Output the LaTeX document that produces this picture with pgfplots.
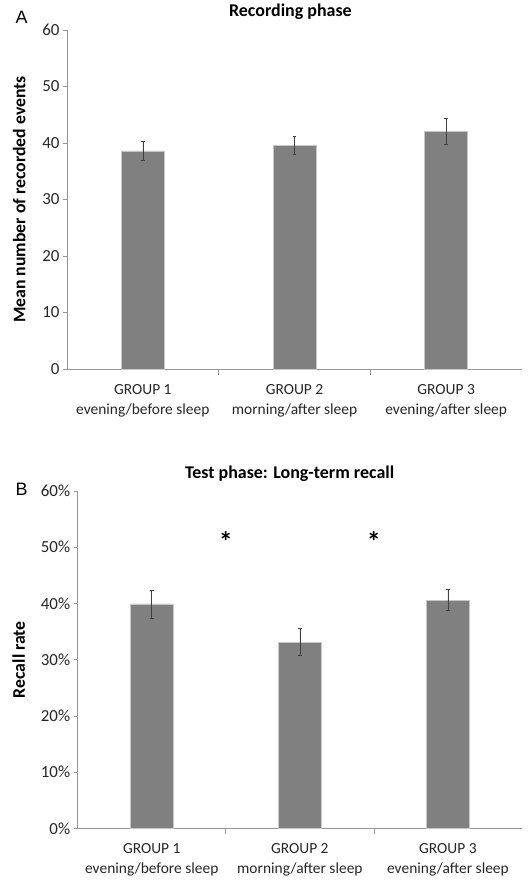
\documentclass[border=0pt]{standalone}
\usepackage{pgfplots}
\pgfplotsset{compat=1.18}
\usepackage{fontspec}
\setmainfont{Carlito}
\newfontfamily\arialfont{Liberation Sans}
\definecolor{barfill}{RGB}{128,128,128}
\definecolor{axgray}{RGB}{150,150,150}
\begin{document}
\begin{tikzpicture}
\path[use as bounding box] (0bp,0bp) rectangle (528bp,881bp);
\pgfplotsset{
  common/.style={
    scale only axis,
    axis lines=left,
    axis line style={-, draw=axgray, line width=0.7pt},
    xmin=0.5, xmax=3.5, ymin=0, ymax=60,
    ytick={0,10,...,60},
    xtick={1,2,3},
    xticklabels={{GROUP 1\\evening/before sleep},{GROUP 2\\morning/after sleep},{GROUP 3\\evening/after sleep}},
    xticklabel style={align=center, font=\fontsize{15.5}{20}\selectfont, text=black!85, yshift=-8bp},
    yticklabel style={font=\fontsize{17}{19}\selectfont, text=black!85},
    /pgf/number format/assume math mode=true,
    minor x tick num=1,
    major x tick style={draw=none},
    minor x tick style={draw=axgray, line width=0.7pt},
    major y tick style={draw=axgray, line width=0.7pt},
    tick align=outside,
    major tick length=4bp,
    minor tick length=6bp,
    ytick pos=left,
    xtick pos=bottom,
    clip=false,
  },
  barstyle/.style={
    ybar, bar width=43bp, fill=barfill, draw=black!22, line width=0.5pt,
    error bars/.cd, y dir=both, y explicit,
    error bar style={draw=black!75, line width=0.6pt},
    error mark options={rotate=90, mark size=1.8bp, draw=black!75, line width=0.6pt},
  },
}
% Panel A
\begin{axis}[common,
  at={(67bp,512bp)}, anchor=south west, width=455bp, height=339bp,
  ylabel={Mean number of recorded events},
  ylabel style={at={(axis description cs:-0.105,0.5)}, rotate=0, anchor=center, font=\bfseries\fontsize{17.8}{20}\selectfont},
  title={Recording phase},
  title style={at={(axis description cs:0.491,1)}, anchor=base, yshift=7.5bp, font=\bfseries\fontsize{18}{20}\selectfont},
]
\addplot[barstyle] coordinates {(1,38.6) +- (0,1.7) (2,39.6) +- (0,1.6) (3,42.0) +- (0,2.3)};
\end{axis}
\node[font=\arialfont\fontsize{18}{20}\selectfont, anchor=base west] at (12bp,857bp) {A};
% Panel B
\begin{axis}[common,
  at={(77.7bp,52.7bp)}, anchor=south west, width=444.3bp, height=337.3bp,
  yticklabel={\pgfmathprintnumber{\tick}\%},
  ylabel={Recall rate},
  ylabel style={at={(axis description cs:-0.133,0.5)}, rotate=0, anchor=center, font=\bfseries\fontsize{17.8}{20}\selectfont},
  title={Test phase: Long-term recall},
  title style={at={(axis description cs:0.477,1)}, anchor=base, yshift=6.7bp, font=\bfseries\fontsize{18}{20}\selectfont},
]
\addplot[barstyle] coordinates {(1,39.9) +- (0,2.5) (2,33.1) +- (0,2.4) (3,40.6) +- (0,1.9)};
\node[font=\bfseries\fontsize{28}{30}\selectfont] at (axis cs:1.5,51.0) {*};
\node[font=\bfseries\fontsize{28}{30}\selectfont] at (axis cs:2.5,51.0) {*};
\end{axis}
\node[font=\arialfont\fontsize{18}{20}\selectfont, anchor=base west] at (12bp,385bp) {B};
\end{tikzpicture}
\end{document}
